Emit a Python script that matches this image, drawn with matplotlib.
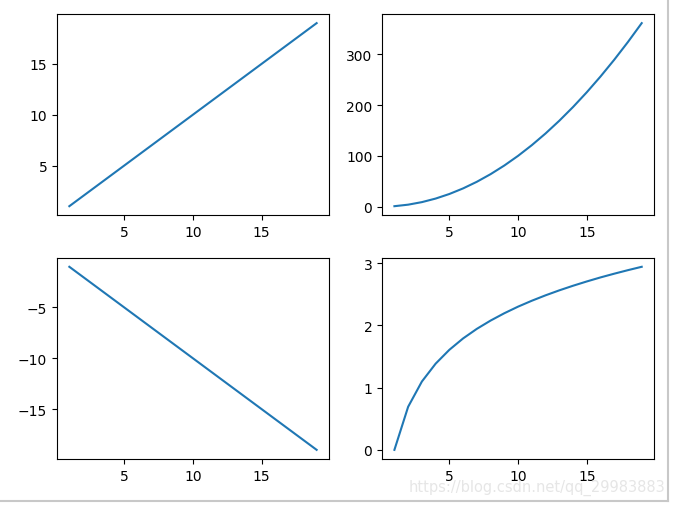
import matplotlib
matplotlib.use("Agg")
import matplotlib.pyplot as plt
from matplotlib.lines import Line2D

x = [1, 2, 3, 4, 5, 6, 7, 8, 9, 10, 11, 12, 13, 14, 15, 16, 17, 18, 19]
y_linear = [1, 2, 3, 4, 5, 6, 7, 8, 9, 10, 11, 12, 13, 14, 15, 16, 17, 18, 19]
y_square = [1, 4, 9, 16, 25, 36, 49, 64, 81, 100, 121, 144, 169, 196, 225,
            256, 289, 324, 361]
y_negative = [-1, -2, -3, -4, -5, -6, -7, -8, -9, -10, -11, -12, -13, -14,
              -15, -16, -17, -18, -19]
y_log = [0.0, 0.693, 1.099, 1.386, 1.609, 1.792, 1.946, 2.079, 2.197, 2.303,
         2.398, 2.485, 2.565, 2.639, 2.708, 2.773, 2.833, 2.890, 2.944]
log_ticks = [0, 1, 2, 3]


def main():
    fig, axes = plt.subplots(2, 2, figsize=(6.75, 5.06), dpi=100)
    fig.subplots_adjust(left=0.0844, right=0.969, top=0.9704, bottom=0.0909,
                        wspace=0.195, hspace=0.21)

    axes[0, 0].plot(x, y_linear)
    axes[0, 1].plot(x, y_square)
    axes[1, 0].plot(x, y_negative)
    axes[1, 1].plot(x, y_log)
    axes[1, 1].set_yticks(log_ticks)

    # window border from the screenshot + watermark
    fig.add_artist(Line2D([0, 0.99], [0.008, 0.008], transform=fig.transFigure,
                          color="#c8c8c8", lw=1.5))
    fig.add_artist(Line2D([0.99, 0.99], [0.008, 1], transform=fig.transFigure,
                          color="#c8c8c8", lw=1.5))
    fig.text(0.985, 0.035, "https://blog.csdn.net/qq_29983883", ha="right",
             va="center", color="#e6e6e6", fontsize=10.5)

    fig.savefig("out.png")
    return 0


if __name__ == "__main__":
    main()
